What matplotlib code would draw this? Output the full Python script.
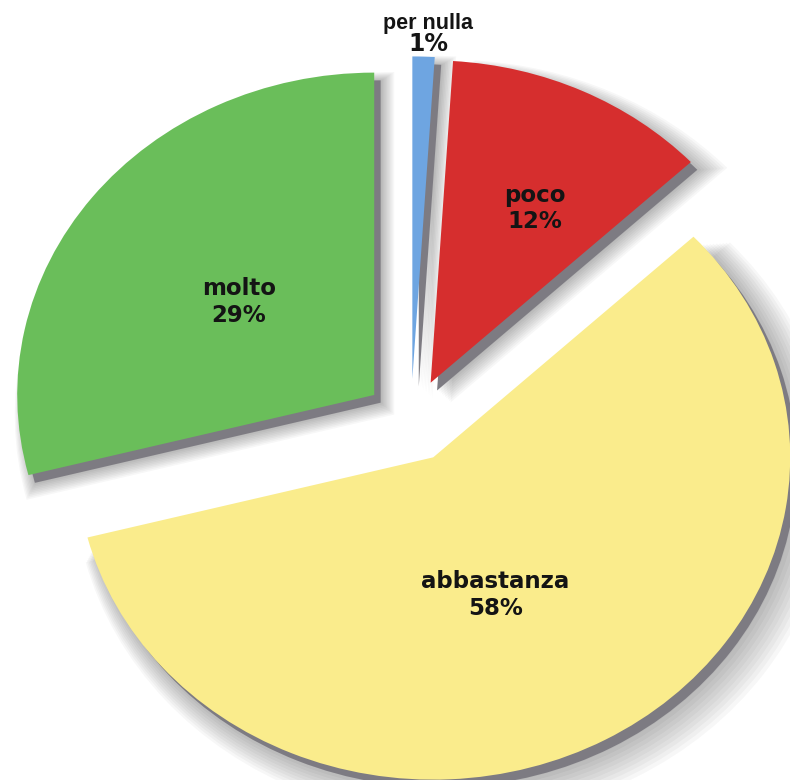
import numpy as np
import matplotlib.pyplot as plt

# data
labels = ['per nulla', 'poco', 'abbastanza', 'molto']
values = [1, 12, 58, 29]
colors = ['#6ea5e1', '#d62e2e', '#faec8c', '#6abe5a']
label_dist = [1.07, 0.62, 0.47, 0.48]
label_nudge = [(0.01, 0.0), (0.028, -0.02), (-0.053, -0.016), (0.0, -0.005)]

explode = [0.13] * len(values)

fig = plt.figure(figsize=(7.9, 7.8), dpi=100)
ax = fig.add_axes([0, 0, 1, 1])

common = dict(startangle=90, counterclock=False, explode=explode, radius=1.0)

# soft blurred shadow
for k in range(10):
    ax.pie(values, colors=['#000000'] * len(values),
           center=(0.02 + 0.004 * k, -0.025 - 0.004 * k),
           radius=1.0 + 0.007 * k,
           startangle=90, counterclock=False, explode=explode,
           wedgeprops=dict(alpha=0.03, linewidth=0))

# hard gray edge
ax.pie(values, colors=['#7d7b82'] * len(values), center=(0.018, -0.024),
       wedgeprops=dict(linewidth=0), **common)

wedges, _ = ax.pie(values, colors=colors, wedgeprops=dict(linewidth=0), **common)

for w, lab, v, d, (nx, ny) in zip(wedges, labels, values, label_dist, label_nudge):
    mid = np.deg2rad((w.theta1 + w.theta2) / 2)
    cx, cy = w.center
    x = cx + d * np.cos(mid) + nx
    y = cy + d * np.sin(mid) + ny
    if lab == 'per nulla':
        ax.text(x, y, lab, ha='center', va='bottom', fontsize=15.5,
                fontweight='bold', family='Liberation Sans', color='#141414')
        ax.text(x, y + 0.005, f'{v}%', ha='center', va='top', fontsize=17,
                fontweight='bold', color='#141414')
    else:
        ax.text(x, y, f'{lab}\n{v}%', ha='center', va='center', fontsize=16.5,
                fontweight='bold', color='#141414', linespacing=1.2)

ax.set_aspect('auto')
ax.set_xlim(-1.151, 1.062)
ax.set_ylim(-1.115, 1.305)
ax.axis('off')

fig.savefig('out.png', dpi=100, facecolor='white')
